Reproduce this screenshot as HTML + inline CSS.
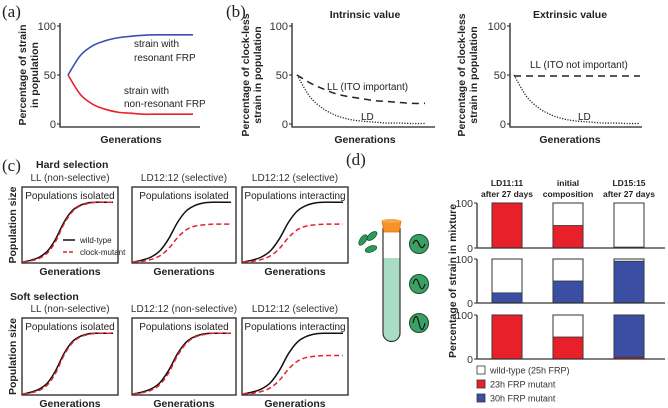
<!DOCTYPE html>
<html><head><meta charset="utf-8"><style>
html,body{margin:0;padding:0;background:#fff;}
svg{display:block;font-family:"Liberation Sans",sans-serif;}
</style></head><body>
<svg id="fig" width="668" height="408" viewBox="0 0 668 408">
<g id="pa"></g>
<g id="pb"></g>
<g id="pc"></g>
<g id="pd"></g>
</svg>
<script>
// ---- data ----
const genIdx = [0,1,2,3,4,5,6,7,8,9,10];
const resonantPct = [50,70,80,85,88,89.5,90.5,91,91,91,91];
const nonResonantPct = [50,30,20,15,12,11,10,10,10,10,10];
const intrinsicLL = [50,42,36,31,28,26,24,23,22,21,21];
const lengthLD = [50,28,16,9,5,3,2,1,1,0.5,0.5];
const extrinsicLL = [49,49,49,49,49,49,49,49,49,49,49];
const popWild = [0,3,8,18,38,65,84,93,97,98,98,98];
const popMutantSame = [0,2,6,15,34,62,82,92,96,98,98,98];
const popMutantSel = [0,1,4,10,22,40,53,59,61,62,62,62];
const barCols = ["LD11:11|after 27 days","initial|composition","LD15:15|after 27 days"];
const row1Red = [100,50,2];
const row1Blue = [0,0,0];
const row2Red = [0,0,0];
const row2Blue = [23,50,95];
const row3Red = [100,50,4];
const row3Blue = [0,0,96];
const yTicks = [0,50,100];

const NS="http://www.w3.org/2000/svg";
function mk(parent,tag,attrs,text){const e=document.createElementNS(NS,tag);for(const k in attrs)e.setAttribute(k,attrs[k]);if(text!==undefined)e.textContent=text;parent.appendChild(e);return e;}
function smooth(pts){let d="M"+pts[0][0]+","+pts[0][1];for(let i=0;i<pts.length-1;i++){const p0=pts[Math.max(0,i-1)],p1=pts[i],p2=pts[i+1],p3=pts[Math.min(pts.length-1,i+2)];const c1=[p1[0]+(p2[0]-p0[0])/6,p1[1]+(p2[1]-p0[1])/6],c2=[p2[0]-(p3[0]-p1[0])/6,p2[1]-(p3[1]-p1[1])/6];d+=" C"+c1+" "+c2+" "+p2;}return d;}
function series(parent,vals,xs,sx,sy,stroke,w,dash,name){const n=vals.length;const pts=vals.map((v,i)=>[sx(i/(n-1)),sy(v)]);const p=mk(parent,"path",{d:smooth(pts),fill:"none",stroke:stroke,"stroke-width":w});if(dash)p.setAttribute("stroke-dasharray",dash);


return p;}
function txt(parent,x,y,s,opt,name){const t=mk(parent,"text",Object.assign({x:x,y:y,"font-size":10,fill:"#222"},opt||{}),s);


return t;}
function ylab(parent,cx,cy,lines,name){const g=mk(parent,"g",{transform:`translate(${cx},${cy}) rotate(-90)`});


lines.forEach((l,i)=>mk(g,"text",{x:0,y:(i-(lines.length-1)/2)*12+4,"text-anchor":"middle","font-size":10.5,"font-weight":"bold",fill:"#222"},l));}
function axes(parent,x0,x1,yTop,yBot,name){const g=mk(parent,"g",{});


mk(g,"path",{d:`M${x0},${yTop-2}V${yBot}H${x1}`,fill:"none",stroke:"#222","stroke-width":1.3});
const sy=v=>yBot-3-(v/100)*(yBot-3-yTop-1);
yTicks.forEach(v=>{mk(g,"line",{x1:x0-3,x2:x0,y1:sy(v),y2:sy(v),stroke:"#222"});mk(g,"text",{x:x0-4,y:sy(v)+4,"text-anchor":"end","font-size":11,fill:"#333"},v);});
return sy;}

// ---- panel a ----
const pa=document.getElementById("pa");
txt(pa,2,17,"(a)",{"font-family":"Liberation Serif","font-size":17},"label-a");
let sy=axes(pa,60,200,25,127,"axes-a");
let sx=t=>68+t*125;
series(pa,resonantPct,genIdx,sx,sy,"#3c4fb0",1.6,null,"line-resonant");
series(pa,nonResonantPct,genIdx,sx,sy,"#e8202a",1.6,null,"line-nonresonant");
txt(pa,134,47,"strain with",{},"text-resonant-1");
txt(pa,134,61,"resonant FRP",{},"text-resonant-2");
txt(pa,124,94,"strain with",{},"text-nonres-1");
txt(pa,124,107,"non-resonant FRP",{},"text-nonres-2");
txt(pa,131,143,"Generations",{"text-anchor":"middle","font-weight":"bold","font-size":10.5},"x-title-a");
ylab(pa,28,75,["Percentage of strain","in population"],"y-title-a");

// ---- panel b ----
const pb=document.getElementById("pb");
txt(pb,226,17,"(b)",{"font-family":"Liberation Serif","font-size":17},"label-b");
txt(pb,365,18,"Intrinsic value",{"text-anchor":"middle","font-weight":"bold","font-size":10.5},"title-intrinsic");
sy=axes(pb,292,435,25,127,"axes-intrinsic");
sx=t=>297+t*128;
series(pb,intrinsicLL,genIdx,sx,sy,"#222",1.5,"7,5","line-intrinsic-ll");
series(pb,lengthLD,genIdx,sx,sy,"#222",1.3,"1.2,1.5","line-intrinsic-ld");
txt(pb,327,90,"LL (ITO important)",{},"text-ito-important");
txt(pb,361,120,"LD",{},"text-ld-1");
txt(pb,365,143,"Generations",{"text-anchor":"middle","font-weight":"bold","font-size":10.5},"x-title-b1");
ylab(pb,251,75,["Percentage of clock-less","strain in population"],"y-title-b1");
txt(pb,570,18,"Extrinsic value",{"text-anchor":"middle","font-weight":"bold","font-size":10.5},"title-extrinsic");
sy=axes(pb,510,642,25,127,"axes-extrinsic");
sx=t=>514+t*126;
series(pb,extrinsicLL,genIdx,sx,sy,"#222",1.5,"7,5","line-extrinsic-ll");
series(pb,lengthLD,genIdx,sx,sy,"#222",1.3,"1.2,1.5","line-extrinsic-ld");
txt(pb,530,68,"LL (ITO not important)",{},"text-ito-not-important");
txt(pb,578,120,"LD",{},"text-ld-2");
txt(pb,570,143,"Generations",{"text-anchor":"middle","font-weight":"bold","font-size":10.5},"x-title-b2");
ylab(pb,467,75,["Percentage of clock-less","strain in population"],"y-title-b2");

// ---- panel c ----
const pc=document.getElementById("pc");
txt(pc,2,171,"(c)",{"font-family":"Liberation Serif","font-size":17},"label-c");
txt(pc,36,168,"Hard selection",{"font-weight":"bold","font-size":10.5},"title-hard");
txt(pc,10,300,"Soft selection",{"font-weight":"bold","font-size":10.5},"title-soft");
const boxes=[[22,118],[132,236],[242,348]];
const rows=[{top:187,bot:263,titles:["LL (non-selective)","LD12:12 (selective)","LD12:12 (selective)"],mut:[popMutantSame,popMutantSel,popMutantSel],sub:["Populations isolated","Populations isolated","Populations interacting"]},
{top:318,bot:395,titles:["LL (non-selective)","LD12:12 (non-selective)","LD12:12 (selective)"],mut:[popMutantSame,popMutantSame,popMutantSel],sub:["Populations isolated","Populations isolated","Populations interacting"]}];
rows.forEach((r,ri)=>{
 ylab(pc,12,(r.top+r.bot)/2,["Population size"],"y-title-c"+(ri+1));
 boxes.forEach((b,bi)=>{
  const g=mk(pc,"g",{});
  
  
  mk(g,"rect",{x:b[0],y:r.top,width:b[1]-b[0],height:r.bot-r.top,fill:"none",stroke:"#222","stroke-width":1.3});
  const cx=(b[0]+b[1])/2;
  mk(g,"text",{x:cx,y:r.top-6,"text-anchor":"middle","font-size":10,fill:"#333"},r.titles[bi]);
  mk(g,"text",{x:cx,y:r.top+12,"text-anchor":"middle","font-size":10,fill:"#222"},r.sub[bi]);
  mk(g,"text",{x:cx,y:r.bot+12,"text-anchor":"middle","font-size":10.5,"font-weight":"bold",fill:"#222"},"Generations");
  const gx=t=>b[0]+1+t*(b[1]-b[0]-6), gy=v=>r.bot-1-(v/100)*(r.bot-r.top-15);
  series(g,popWild,null,gx,gy,"#111",1.5,null,"line-wild-type");
  series(g,r.mut[bi],null,gx,gy,"#e8202a",1.5,"5,3","line-clock-mutant");
  if(ri===0&&bi===0){
   mk(g,"line",{x1:63,x2:75,y1:240,y2:240,stroke:"#111","stroke-width":1.5});
   mk(g,"text",{x:80,y:243,"font-size":8,fill:"#222"},"wild-type");
   mk(g,"line",{x1:63,x2:75,y1:252,y2:252,stroke:"#e8202a","stroke-width":1.5,"stroke-dasharray":"4,2"});
   mk(g,"text",{x:80,y:255,"font-size":8,fill:"#222"},"clock-mutant");
  }
 });
});

// ---- panel d ----
const pd=document.getElementById("pd");
txt(pd,346,165,"(d)",{"font-family":"Liberation Serif","font-size":17},"label-d");
const tube=mk(pd,"g",{});


mk(tube,"path",{d:"M383,258 V333 a8.5,8.5 0 0 0 17,0 V258 Z",fill:"#a8dcc3"});
mk(tube,"path",{d:"M383,228 V333 a8.5,8.5 0 0 0 17,0 V228",fill:"none",stroke:"#333","stroke-width":1.2});
mk(tube,"path",{d:"M382,221 h19 l-2,11 h-15 z",fill:"#f5922a",stroke:"#e07a10","stroke-width":0.8});
mk(tube,"ellipse",{cx:391,cy:221,rx:9.5,ry:2,fill:"#f7a64a"});
[[363,240,-55],[372,236,-40],[371,249,-20]].forEach(e=>{const el=mk(pd,"ellipse",{cx:e[0],cy:e[1],rx:6,ry:3,fill:"#2d9a5a",stroke:"#14502e","stroke-width":0.7,transform:`rotate(${e[2]} ${e[0]} ${e[1]})`});

});
[[419,244,3],[419,284,4],[419,323,5.5]].forEach((c,i)=>{const g=mk(pd,"g",{});


mk(g,"circle",{cx:c[0],cy:c[1],r:9.5,fill:"#3aa066",stroke:"#1d4d30","stroke-width":1});
mk(g,"path",{d:`M${c[0]-6},${c[1]} C${c[0]-4},${c[1]-1.6*c[2]} ${c[0]-2},${c[1]-1.6*c[2]} ${c[0]},${c[1]} S${c[0]+4},${c[1]+1.6*c[2]} ${c[0]+6},${c[1]}`,fill:"none",stroke:"#111","stroke-width":1.2});});
const colX=[492,553,614], bw=30;
const bRows=[[row1Red,row1Blue,203,248],[row2Red,row2Blue,259,303],[row3Red,row3Blue,315,359]];
bRows.forEach((r,ri)=>{
 const g=mk(pd,"g",{});
 
 
 const top=r[2],bot=r[3];
 const sy=v=>bot-(v/100)*(bot-top);
 colX.forEach((x,ci)=>{
  mk(g,"rect",{x:x,y:top,width:bw,height:bot-top,fill:"#fff",stroke:"#333","stroke-width":1});
  const red=r[0][ci],blue=r[1][ci];
  if(red>0){const b=mk(g,"rect",{x:x,y:sy(red),width:bw,height:sy(0)-sy(red),fill:"#e8202a",stroke:"#333","stroke-width":0.8});
   
   }
  if(blue>0){const b=mk(g,"rect",{x:x,y:sy(red+blue),width:bw,height:sy(red)-sy(red+blue),fill:"#3a4fa3",stroke:"#333","stroke-width":0.8});
   
   }
 });
 mk(g,"path",{d:`M477,${top}V${bot}H665`,fill:"none",stroke:"#333","stroke-width":1.3});
 [0,100].forEach(v=>{mk(g,"line",{x1:474,x2:477,y1:sy(v),y2:sy(v),stroke:"#333"});mk(g,"text",{x:473,y:sy(v)+4,"text-anchor":"end","font-size":10.5,fill:"#333"},v);});
});
barCols.forEach((c,i)=>{const p=c.split("|");const cx=colX[i]+bw/2;
 txt(pd,cx,186,p[0],{"text-anchor":"middle","font-weight":"bold","font-size":8.5},"column-header-"+(i+1)+"a");
 txt(pd,cx,197,p[1],{"text-anchor":"middle","font-weight":"bold","font-size":8.5},"column-header-"+(i+1)+"b");});
ylab(pd,452,281,["Percentage of strain in mixture"],"y-title-d");
[["#fff","wild-type (25h FRP)",370],["#e8202a","23h FRP mutant",384],["#3a4fa3","30h FRP mutant",398]].forEach((l,i)=>{
 const g=mk(pd,"g",{});
 
 
 mk(g,"rect",{x:477,y:l[2]-4,width:8,height:8,fill:l[0],stroke:"#333","stroke-width":0.8});
 mk(g,"text",{x:490,y:l[2]+3.5,"font-size":9,fill:"#333"},l[1]);});
</script>
</body></html>
